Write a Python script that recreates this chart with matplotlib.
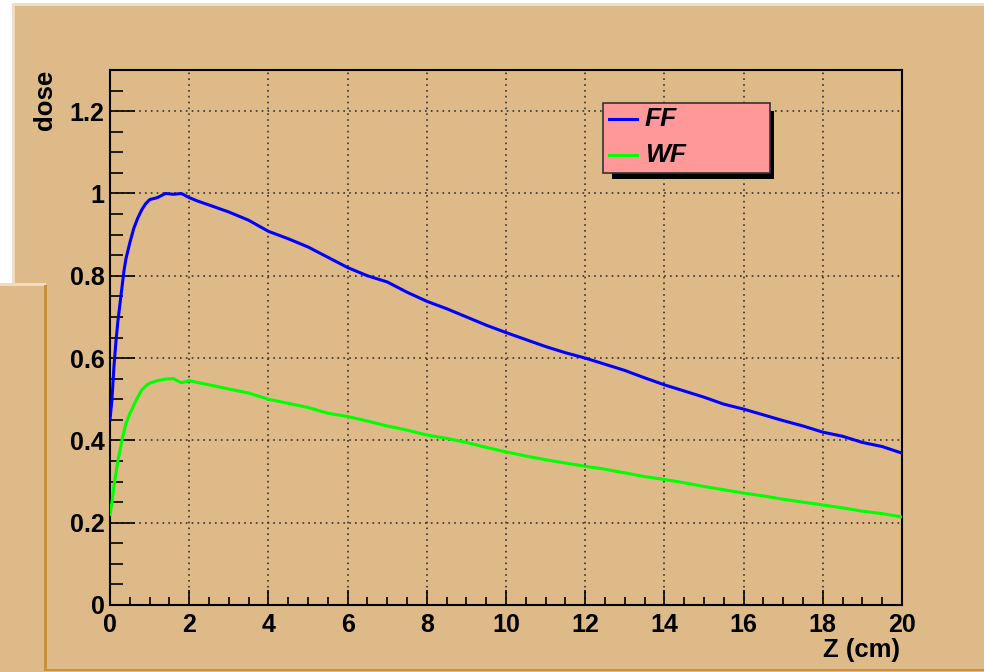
import matplotlib.pyplot as plt
from matplotlib.patches import Rectangle
from matplotlib.lines import Line2D
from matplotlib.ticker import MultipleLocator

# depth dose curves, FF and WF beams
z_ff = [0, 0.05, 0.1, 0.15, 0.2, 0.25, 0.3, 0.35, 0.4, 0.5, 0.6, 0.7, 0.8, 0.9,
        1.0, 1.2, 1.4, 1.6, 1.8, 2.0, 2.2, 2.5, 3.0, 3.5, 4.0, 4.5, 5.0, 5.5,
        6.0, 6.5, 7.0, 7.5, 8.0, 8.5, 9.0, 9.5, 10, 10.5, 11, 11.5, 12, 12.5,
        13, 13.5, 14, 14.5, 15, 15.5, 16, 16.5, 17, 17.5, 18, 18.5, 19, 19.5, 20]
dose_ff = [0.45, 0.50, 0.58, 0.64, 0.69, 0.73, 0.77, 0.81, 0.84, 0.88, 0.915,
           0.94, 0.96, 0.975, 0.985, 0.99, 1.0, 0.998, 1.0, 0.99, 0.982, 0.972,
           0.955, 0.935, 0.908, 0.89, 0.87, 0.845, 0.82, 0.8, 0.785, 0.76,
           0.738, 0.72, 0.7, 0.68, 0.662, 0.645, 0.628, 0.613, 0.6, 0.585,
           0.57, 0.552, 0.535, 0.52, 0.505, 0.488, 0.476, 0.462, 0.448, 0.435,
           0.42, 0.41, 0.395, 0.385, 0.369]

z_wf = [0, 0.05, 0.1, 0.15, 0.2, 0.3, 0.4, 0.5, 0.6, 0.7, 0.8, 0.9, 1.0, 1.2,
        1.4, 1.6, 1.8, 2.0, 2.5, 3.0, 3.5, 4.0, 4.5, 5.0, 5.5, 6.0, 6.5, 7.0,
        7.5, 8.0, 8.5, 9.0, 9.5, 10, 10.5, 11, 11.5, 12, 12.5, 13, 13.5, 14,
        14.5, 15, 15.5, 16, 16.5, 17, 17.5, 18, 18.5, 19, 19.5, 20]
dose_wf = [0.22, 0.25, 0.29, 0.32, 0.35, 0.40, 0.44, 0.465, 0.485, 0.505,
           0.522, 0.532, 0.539, 0.545, 0.549, 0.55, 0.54, 0.545, 0.535, 0.525,
           0.515, 0.5, 0.49, 0.48, 0.466, 0.458, 0.447, 0.435, 0.425, 0.413,
           0.405, 0.395, 0.383, 0.372, 0.362, 0.353, 0.345, 0.337, 0.33, 0.321,
           0.312, 0.305, 0.297, 0.288, 0.28, 0.272, 0.265, 0.257, 0.25, 0.243,
           0.236, 0.228, 0.222, 0.214]

labels = ['FF', 'WF']
colors = ['#0000ff', '#00ff00']

W, H = 984, 672
tan = '#deba89'
light = '#efdcc2'
dark = '#c8903a'

plt.rcParams['font.family'] = ['Liberation Sans', 'DejaVu Sans']
plt.rcParams['font.weight'] = 'bold'

fig = plt.figure(figsize=(W / 100, H / 100), dpi=100, facecolor='white')


def box(x0, y0, x1, y1, **kw):
    # rectangle given in pixels, origin at top left
    r = Rectangle((x0 / W, 1 - y1 / H), (x1 - x0) / W, (y1 - y0) / H,
                  transform=fig.transFigure, lw=0, **kw)
    fig.add_artist(r)
    return r


# canvas pads with bevelled edges
box(12, 3, W, H, facecolor=tan, zorder=0)
box(12, 3, W, 5.5, facecolor=light, zorder=0.1)
box(12, 3, 14.5, 283, facecolor=light, zorder=0.1)
box(0, 283, 46, H, facecolor=tan, zorder=0.2)
box(0, 283, 46, 285.5, facecolor=light, zorder=0.3)
box(44, 285, 46.5, 671, facecolor=dark, zorder=0.3)
box(44, 668.5, W, 671, facecolor=dark, zorder=0.3)

ax = fig.add_axes([110 / W, 1 - 605 / H, 792 / W, 535 / H])
ax.set_facecolor(tan)
ax.set_xlim(0, 20)
ax.set_ylim(0, 1.3)

ax.plot(z_ff, dose_ff, color=colors[0], lw=2.2, zorder=3)
ax.plot(z_wf, dose_wf, color=colors[1], lw=2.2, zorder=3)

ax.xaxis.set_major_locator(MultipleLocator(2))
ax.xaxis.set_minor_locator(MultipleLocator(0.5))
ax.yaxis.set_major_locator(MultipleLocator(0.2))
ax.yaxis.set_minor_locator(MultipleLocator(0.05))
ax.set_yticks([0, 0.2, 0.4, 0.6, 0.8, 1.0, 1.2])
ax.set_yticklabels(['0', '0.2', '0.4', '0.6', '0.8', '1', '1.2'])
ax.tick_params(axis='both', which='both', direction='in', colors='black',
               labelsize=18, width=1.2)
ax.tick_params(axis='x', which='major', length=11, pad=6)
ax.tick_params(axis='x', which='minor', length=5.5)
ax.tick_params(axis='y', which='major', length=18, pad=4)
ax.tick_params(axis='y', which='minor', length=9)
ax.grid(True, which='major', color='#333333', linestyle=(0, (1, 2.5)), lw=1.2)
for s in ax.spines.values():
    s.set_linewidth(1.5)
    s.set_color('black')

fig.text(45 / W, 1 - 70 / H, 'dose', rotation=90, ha='center', va='top',
         fontsize=18.5, fontweight='bold')
fig.text(900 / W, 1 - 650 / H, 'Z (cm)', ha='right', va='center',
         fontsize=18.5, fontweight='bold')

# legend box with shadow
box(612, 111, 774, 179, facecolor='black', zorder=5)
leg = box(603, 103, 770, 173, facecolor='#ff9999', zorder=6)
leg.set_edgecolor('#333333')
leg.set_linewidth(1.2)
for i, (lab, c) in enumerate(zip(labels, colors)):
    yy = 1 - (119 + 36 * i) / H
    fig.add_artist(Line2D([609 / W, 637 / W], [yy, yy], color=c, lw=2.2,
                          transform=fig.transFigure, zorder=7))
    fig.text(645 / W, yy, lab, ha='left', va='center', fontsize=19,
             fontweight='bold', fontstyle='italic', zorder=7)

fig.savefig('out.png', dpi=100, facecolor='white')
